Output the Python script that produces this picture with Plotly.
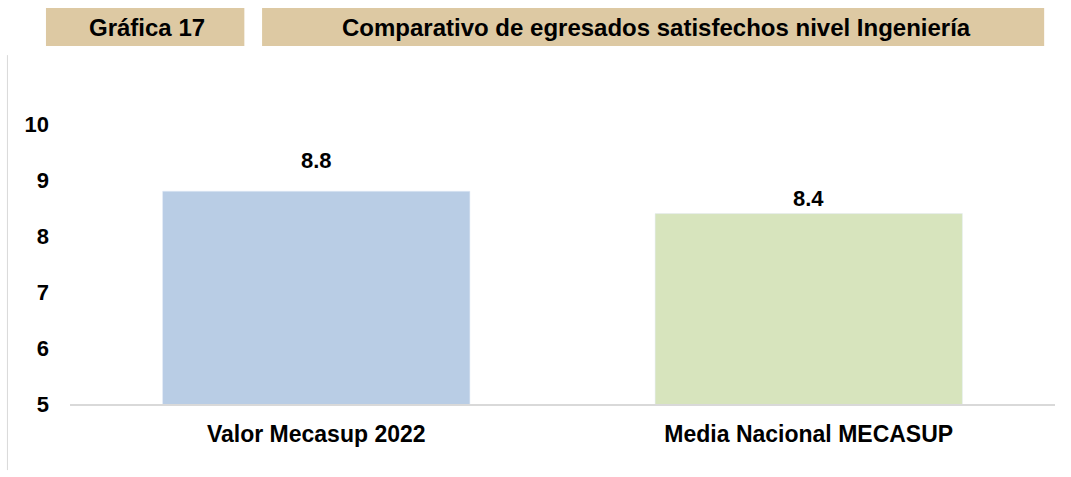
import plotly.graph_objects as go

categories = ["Valor Mecasup 2022", "Media Nacional MECASUP"]
values = [8.8, 8.4]
bar_colors = ["#B9CDE5", "#D7E4BD"]
y_ticks = [5, 6, 7, 8, 9, 10]
header_left = "Gráfica 17"
header_right = "Comparativo de egresados satisfechos nivel Ingeniería"

# label offsets above the bar tops (pixels), as placed in the original
LABEL_SHIFT = [31, 15]

FONT = "Liberation Sans, Arial, sans-serif"

def f(size):
    return dict(family=FONT, size=size, color="black", weight="bold")

fig = go.Figure(go.Bar(
    x=categories, y=values, marker_color=bar_colors, hoverinfo="x+y",
))

for c, v, s in zip(categories, values, LABEL_SHIFT):
    fig.add_annotation(x=c, y=v, text=f"{v:.1f}", showarrow=False, yanchor="middle",
                       yshift=s, font=f(22))

fig.update_layout(
    width=1071, height=477,
    margin=dict(l=70, r=16, t=124, b=73),
    paper_bgcolor="white", plot_bgcolor="white",
    bargap=0.376, showlegend=False,
    font=f(18),
    xaxis=dict(showline=True, linecolor="#D9D9D9", linewidth=2, showgrid=False,
               tickfont=f(23), ticklabelstandoff=8),
    yaxis=dict(range=[5, 10], tickvals=y_ticks, showgrid=False, showline=False, zeroline=False,
               tickfont=f(22), ticklabelstandoff=20),
)

fig.add_shape(type="rect", xref="paper", yref="paper", x0=-0.0244, x1=0.177, y0=1.279, y1=1.414,
              fillcolor="#DDC9A3", line_width=0, layer="below")
fig.add_shape(type="rect", xref="paper", yref="paper", x0=0.195, x1=0.989, y0=1.279, y1=1.414,
              fillcolor="#DDC9A3", line_width=0, layer="below")
fig.add_shape(type="line", xref="paper", yref="paper", x0=-0.0635, x1=-0.0635, y0=-0.236, y1=1.246,
              line=dict(color="#D9D9D9", width=1))
fig.add_annotation(xref="paper", yref="paper", x=0.078, y=1.346, text=header_left,
                   showarrow=False, xanchor="center", yanchor="middle", font=f(24))
fig.add_annotation(xref="paper", yref="paper", x=0.595, y=1.346, text=header_right,
                   showarrow=False, xanchor="center", yanchor="middle", font=f(24))

fig.write_html("out.html", config={"displayModeBar": False},
               post_script="document.body.style.margin='0';")
